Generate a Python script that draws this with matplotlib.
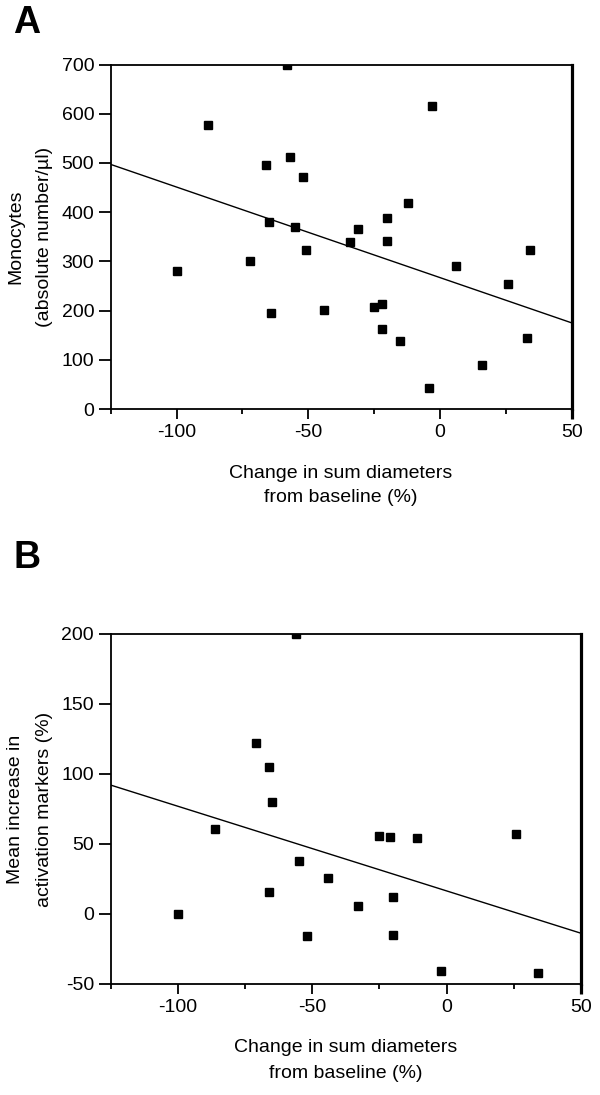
import matplotlib
matplotlib.use("Agg")
import matplotlib.pyplot as plt
import numpy as np

plt.rcParams['font.family'] = ['Liberation Sans', 'DejaVu Sans']

# Panel A data: change in sum diameters (%) vs monocytes (absolute number/µl)
a_x = [-88, -58, -57, -66, -65, -55, -72, -100, -64, -52, -3, -12, -20, -31,
       -34, -20, -51, 34, 6, 26, -44, -25, -22, -22, -15, 33, 16, -4]
a_y = [578, 700, 512, 495, 380, 370, 300, 281, 196, 471, 615, 419, 389, 366,
       340, 341, 324, 324, 290, 254, 202, 208, 213, 162, 138, 144, 89, 42]
a_slope, a_intercept = -1.84, 267.0

# Panel B data: change in sum diameters (%) vs mean increase in activation markers (%)
b_x = [-56, -71, -66, -65, -86, -55, -66, -100, -25, -21, -11, 26, -44, -33,
       -20, -52, -20, -2, 34]
b_y = [200, 122, 105, 80, 61, 38, 16, 0, 56, 55, 54, 57, 26, 6,
       12, -16, -15, -41, -42]
b_slope, b_intercept = -0.605, 16.5

x_lim = (-125, 50)
x_major = [-100, -50, 0, 50]
x_minor = [-125, -75, -25, 25]
a_yticks = [0, 100, 200, 300, 400, 500, 600, 700]
b_yticks = [-50, 0, 50, 100, 150, 200]

W, H = 600, 1095
fig = plt.figure(figsize=(W / 100, H / 100), dpi=100)

def px_axes(l, t, r, b):
    return fig.add_axes([l / W, 1 - b / H, (r - l) / W, (b - t) / H])

axA = px_axes(110.7, 64.5, 571.7, 409)
axB = px_axes(110.5, 634, 581, 984)

def style(ax, xs, ys, slope, intercept, ylim, yticks):
    ax.plot(xs, ys, linestyle='none', marker='s', ms=6, color='black', zorder=3)
    lx = np.array(x_lim, dtype=float)
    ax.plot(lx, intercept + slope * lx, color='black', lw=1.0, zorder=2)
    ax.set_xlim(*x_lim)
    ax.set_ylim(*ylim)
    ax.set_xticks(x_major)
    ax.set_xticklabels([str(v) for v in x_major])
    ax.set_xticks(x_minor, minor=True)
    ax.set_yticks(yticks)
    ax.set_yticklabels([str(v) for v in yticks])
    for s in ['left', 'bottom', 'top']:
        ax.spines[s].set_linewidth(1.3)
    ax.spines['right'].set_linewidth(2.3)
    ax.tick_params(axis='x', which='major', length=7, width=1.3, labelsize=14, pad=4)
    ax.tick_params(axis='x', which='minor', length=3.6, width=1.3)
    ax.tick_params(axis='y', which='major', length=8.8, width=1.3, labelsize=14, pad=3)
    ax.xaxis.get_major_ticks()[-1].tick1line.set_markeredgewidth(2.3)

style(axA, a_x, a_y, a_slope, a_intercept, (0, 700), a_yticks)
style(axB, b_x, b_y, b_slope, b_intercept, (-50, 200), b_yticks)

def ftext(x, y, s, **kw):
    fig.text(x / W, 1 - y / H, s, ha='center', va='center', **kw)

ftext(27, 23, 'A', fontsize=27, fontweight='bold')
ftext(27, 558, 'B', fontsize=27, fontweight='bold')

ftext(16, 237, 'Monocytes', fontsize=14, rotation=90)
ftext(45, 237, '(absolute number/µl)', fontsize=14, rotation=90)
ftext(341, 473, 'Change in sum diameters', fontsize=14)
ftext(341, 498, 'from baseline (%)', fontsize=14)

ftext(16, 809, 'Mean increase in', fontsize=14, rotation=90)
ftext(45, 809, 'activation markers (%)', fontsize=14, rotation=90)
ftext(346, 1048, 'Change in sum diameters', fontsize=14)
ftext(346, 1073, 'from baseline (%)', fontsize=14)

fig.savefig('out.png', dpi=100)
